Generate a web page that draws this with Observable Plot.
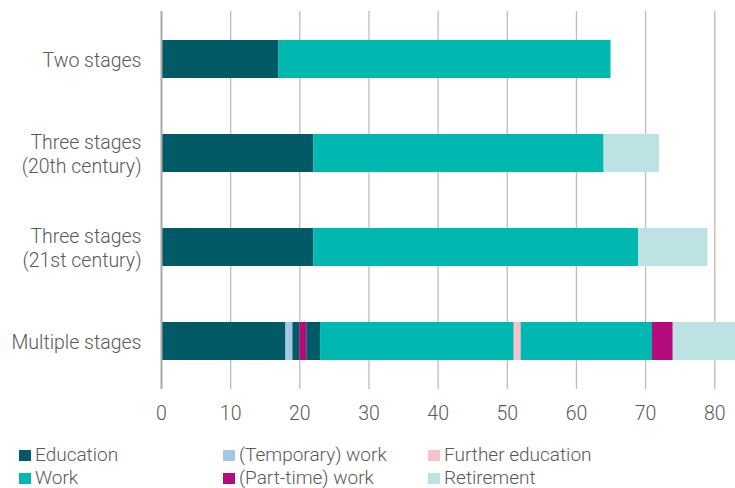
<!DOCTYPE html>
<html>
<head>
<meta charset="utf-8">
<script src="https://cdn.jsdelivr.net/npm/d3@7"></script>
<script src="https://cdn.jsdelivr.net/npm/@observablehq/plot@0.6"></script>
<style>
  body { margin: 0; background: #fff; font-family: Roboto, "Liberation Sans", sans-serif; font-weight: 300; overflow: hidden; }
  #chart svg { display: block; }
  .legend { position: relative; width: 735px; height: 56px; color: #58595b; font-size: 19px; line-height: 18px; }
  .item { position: absolute; display: flex; align-items: center; white-space: nowrap; height: 18px; }
  .sw { width: 12px; height: 11px; margin-right: 4px; }
</style>
</head>
<body>
<div id="chart"></div>
<div class="legend" id="legend"></div>
<script>
const stages = ["Two stages", "Three stages\n(20th century)", "Three stages\n(21st century)", "Multiple stages"];
const activities = ["Education", "Work", "(Temporary) work", "(Part-time) work", "Further education", "Retirement"];
const activityColors = ["#025a67", "#00b8b0", "#a4c6e7", "#b60b7a", "#f8c1cb", "#bce2e1"];
const xTicks = [0, 10, 20, 30, 40, 50, 60, 70, 80];

// sequence of activities and the age at which each ends, per life model
const twoStagesActivities = ["Education", "Work"];
const twoStagesEnds = [17, 65];
const threeStages20Activities = ["Education", "Work", "Retirement"];
const threeStages20Ends = [22, 64, 72];
const threeStages21Activities = ["Education", "Work", "Retirement"];
const threeStages21Ends = [22, 69, 79];
const multipleActivities = ["Education", "(Temporary) work", "Education", "(Part-time) work", "Education", "Work", "Further education", "Work", "(Part-time) work", "Retirement"];
const multipleEnds = [18, 19, 20, 21, 23, 51, 52, 71, 74, 83];

const sequences = [
  [twoStagesActivities, twoStagesEnds],
  [threeStages20Activities, threeStages20Ends],
  [threeStages21Activities, threeStages21Ends],
  [multipleActivities, multipleEnds]
];
const segments = [];
sequences.forEach(([acts, ends], i) => {
  let start = 0;
  acts.forEach((a, j) => {
    segments.push({stage: stages[i], activity: a, x1: start, x2: ends[j]});
    start = ends[j];
  });
});

const chart = Plot.plot({
  width: 735,
  height: 432,
  marginLeft: 161,
  marginRight: 0,
  marginTop: 11,
  marginBottom: 43,
  style: {fontFamily: "Roboto, 'Liberation Sans', sans-serif", fontWeight: 300, fontSize: "19px", color: "#58595b", background: "#fff"},
  x: {domain: [0, 83], ticks: xTicks, tickSize: 0, tickPadding: 17, label: null},
  y: {domain: stages, paddingInner: 0.6, paddingOuter: 0.3, tickSize: 0, tickPadding: 20, label: null},
  color: {domain: activities, range: activityColors},
  marks: [
    Plot.gridX(xTicks.filter(d => d > 0), {stroke: "#bdbdbd", strokeOpacity: 1, strokeWidth: 1.3}),
    Plot.axisX({ticks: xTicks, tickSize: 0, tickPadding: 17, fontSize: 19.5, fill: "#58595b", label: null}),
    Plot.axisY({tickSize: 0, tickPadding: 20, fontSize: 19.5, fill: "#58595b", label: null, lineHeight: 1.23}),
    Plot.barX(segments, {x1: "x1", x2: "x2", y: "stage", fill: "activity"}),
    Plot.ruleX([0], {stroke: "#a8a8a8", strokeWidth: 2})
  ]
});
document.getElementById("chart").appendChild(chart);

const legendLayout = [
  ["Education", 19, 0], ["(Temporary) work", 223, 0], ["Further education", 428, 0],
  ["Work", 19, 1], ["(Part-time) work", 223, 1], ["Retirement", 428, 1]
];
const legend = document.getElementById("legend");
legendLayout.forEach(([name, left, row]) => {
  const it = document.createElement("div");
  it.className = "item";
  it.style.left = left + "px";
  it.style.top = (row * 23 + 14) + "px";
  const sw = document.createElement("span");
  sw.className = "sw";
  sw.style.background = activityColors[activities.indexOf(name)];
  const t = document.createElement("span");
  t.textContent = name;
  it.appendChild(sw); it.appendChild(t);
  legend.appendChild(it);
});
</script>
</body>
</html>
